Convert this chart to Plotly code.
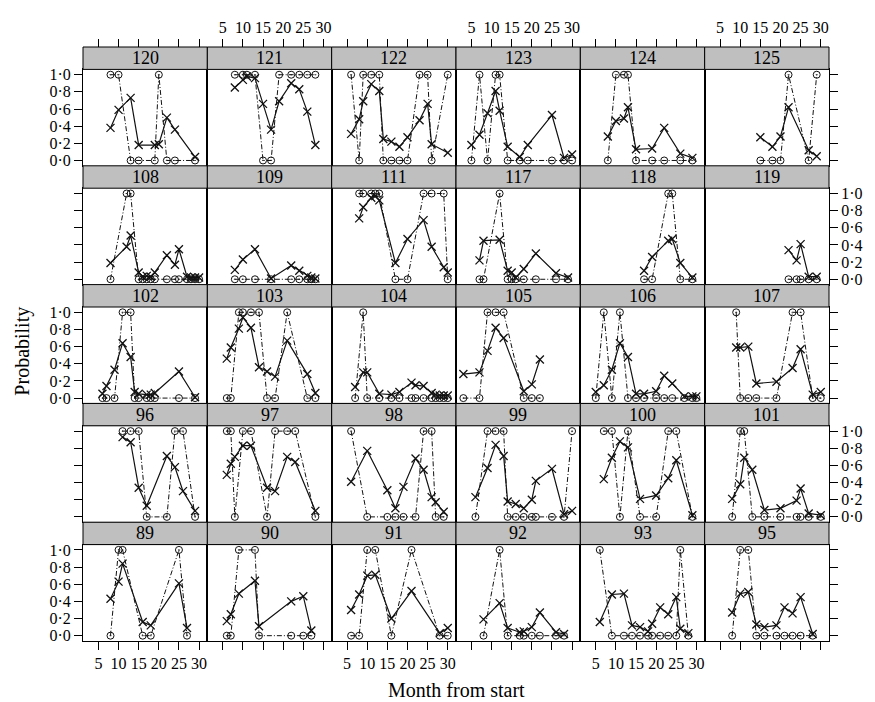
import plotly.graph_objects as go

# ---------------- data ----------------
PANEL_ROWS = [
    ["120", "121", "122", "123", "124", "125"],
    ["108", "109", "111", "117", "118", "119"],
    ["102", "103", "104", "105", "106", "107"],
    ["96", "97", "98", "99", "100", "101"],
    ["89", "90", "91", "92", "93", "95"],
]

MONTHS = {
    "120": [8, 10, 13, 15, 19, 20, 22, 24, 29],
    "121": [8, 10, 11, 13, 15, 17, 19, 22, 24, 26, 28],
    "122": [6, 8, 9, 11, 13, 14, 16, 18, 20, 23, 25, 26, 30],
    "123": [5, 7, 9, 11, 12, 14, 17, 19, 25, 28, 30],
    "124": [8, 10, 12, 13, 15, 19, 22, 26, 29],
    "125": [15, 18, 20, 22, 27, 29],
    "108": [8, 12, 13, 15, 16, 17, 18, 19, 22, 24, 25, 27, 28, 29, 30],
    "109": [8, 10, 13, 17, 22, 24, 26, 27, 28],
    "111": [8, 9, 11, 12, 13, 17, 20, 24, 26, 29, 30],
    "117": [7, 8, 12, 14, 15, 16, 18, 21, 26, 29],
    "118": [17, 19, 23, 24, 26, 29],
    "119": [22, 24, 25, 27, 29],
    "102": [6, 7, 9, 11, 13, 14, 15, 17, 18, 19, 25, 29],
    "103": [6, 7, 9, 10, 12, 14, 16, 18, 21, 26, 28],
    "104": [7, 9, 10, 13, 16, 18, 21, 22, 24, 26, 27, 28, 29, 30],
    "105": [3, 7, 9, 11, 13, 18, 20, 22],
    "106": [5, 7, 9, 11, 13, 15, 17, 20, 22, 24, 27, 29, 30],
    "107": [9, 10, 12, 14, 19, 23, 25, 28, 30],
    "96": [11, 13, 15, 17, 22, 24, 26, 29],
    "97": [6, 7, 8, 10, 12, 16, 18, 21, 23, 28],
    "98": [6, 10, 15, 17, 19, 22, 24, 26, 27, 29],
    "99": [6, 9, 11, 13, 14, 16, 18, 20, 21, 25, 28, 30],
    "100": [7, 9, 11, 13, 16, 20, 23, 25, 29],
    "101": [8, 10, 11, 13, 16, 20, 24, 25, 27, 30],
    "89": [8, 10, 11, 16, 18, 25, 27],
    "90": [6, 7, 9, 13, 14, 22, 25, 27],
    "91": [6, 8, 10, 12, 16, 21, 28, 30],
    "92": [8, 12, 14, 17, 18, 20, 22, 26, 28],
    "93": [6, 9, 12, 14, 16, 18, 19, 21, 23, 25, 26, 28],
    "95": [8, 10, 12, 14, 16, 19, 21, 23, 25, 28],
}

OBSERVED = {
    "120": [1, 1, 0, 0, 0, 1, 0, 0, 0],
    "121": [1, 1, 1, 1, 0, 0, 1, 1, 1, 1, 1],
    "122": [1, 0, 1, 1, 1, 0, 0, 0, 0, 1, 1, 0, 1],
    "123": [0, 1, 0, 1, 1, 0, 0, 0, 0, 0, 0],
    "124": [0, 1, 1, 1, 0, 0, 0, 0, 0],
    "125": [0, 0, 0, 1, 0, 1],
    "108": [0, 1, 1, 0, 0, 0, 0, 0, 0, 0, 0, 0, 0, 0, 0],
    "109": [0, 0, 0, 0, 0, 0, 0, 0, 0],
    "111": [1, 1, 1, 1, 1, 0, 0, 1, 1, 1, 0],
    "117": [0, 0, 1, 0, 0, 0, 0, 0, 0, 0],
    "118": [0, 0, 1, 1, 0, 0],
    "119": [0, 0, 0, 0, 0],
    "102": [0, 0, 0, 1, 1, 0, 0, 0, 0, 0, 0, 0],
    "103": [0, 0, 1, 1, 1, 1, 0, 0, 1, 0, 0],
    "104": [0, 1, 0, 0, 0, 0, 0, 0, 0, 0, 0, 0, 0, 0],
    "105": [0, 0, 1, 1, 1, 0, 0, 0],
    "106": [0, 1, 0, 1, 0, 0, 0, 0, 0, 0, 0, 0, 0],
    "107": [1, 0, 0, 0, 0, 1, 1, 0, 0],
    "96": [1, 1, 1, 0, 0, 1, 1, 0],
    "97": [1, 1, 0, 1, 1, 0, 1, 1, 1, 0],
    "98": [1, 0, 0, 0, 0, 0, 1, 1, 0, 0],
    "99": [0, 1, 1, 1, 0, 0, 0, 0, 0, 0, 0, 1],
    "100": [1, 1, 0, 1, 0, 0, 1, 1, 0],
    "101": [0, 1, 1, 0, 0, 0, 0, 0, 0, 0],
    "89": [0, 1, 1, 0, 0, 1, 0],
    "90": [0, 0, 1, 1, 0, 0, 0, 0],
    "91": [0, 0, 1, 1, 0, 1, 0, 0],
    "92": [0, 1, 0, 0, 0, 0, 0, 0, 0],
    "93": [1, 0, 0, 0, 0, 0, 0, 0, 0, 0, 1, 0],
    "95": [0, 1, 1, 0, 0, 0, 0, 0, 0, 0],
}

FITTED = {
    "120": [0.38, 0.59, 0.73, 0.18, 0.18, 0.19, 0.50, 0.36, 0.04],
    "121": [0.85, 0.94, 0.98, 0.96, 0.66, 0.36, 0.69, 0.90, 0.83, 0.57, 0.18],
    "122": [0.31, 0.48, 0.69, 0.89, 0.81, 0.25, 0.22, 0.16, 0.27, 0.47, 0.66, 0.19, 0.09],
    "123": [0.18, 0.30, 0.55, 0.81, 0.58, 0.16, 0.04, 0.18, 0.53, 0.03, 0.07],
    "124": [0.28, 0.46, 0.49, 0.62, 0.13, 0.14, 0.38, 0.08, 0.03],
    "125": [0.27, 0.16, 0.28, 0.62, 0.12, 0.05],
    "108": [0.19, 0.38, 0.51, 0.08, 0.03, 0.04, 0.03, 0.08, 0.28, 0.17, 0.35, 0.03, 0.02, 0.02, 0.02],
    "109": [0.11, 0.23, 0.35, 0.01, 0.16, 0.10, 0.04, 0.02, 0.01],
    "111": [0.71, 0.84, 0.95, 0.97, 0.92, 0.19, 0.47, 0.69, 0.38, 0.14, 0.08],
    "117": [0.22, 0.45, 0.46, 0.10, 0.08, 0.02, 0.12, 0.30, 0.07, 0.02],
    "118": [0.10, 0.26, 0.45, 0.47, 0.19, 0.02],
    "119": [0.34, 0.22, 0.41, 0.03, 0.03],
    "102": [0.05, 0.14, 0.33, 0.64, 0.48, 0.07, 0.05, 0.04, 0.04, 0.06, 0.31, 0.01],
    "103": [0.46, 0.59, 0.81, 0.94, 0.82, 0.36, 0.31, 0.25, 0.67, 0.28, 0.06],
    "104": [0.13, 0.30, 0.30, 0.05, 0.04, 0.07, 0.18, 0.15, 0.14, 0.06, 0.04, 0.03, 0.03, 0.03],
    "105": [0.28, 0.30, 0.55, 0.82, 0.70, 0.08, 0.16, 0.45],
    "106": [0.07, 0.15, 0.33, 0.64, 0.48, 0.05, 0.05, 0.08, 0.26, 0.17, 0.02, 0.02, 0.02],
    "107": [0.59, 0.59, 0.60, 0.17, 0.19, 0.35, 0.57, 0.04, 0.07],
    "96": [0.93, 0.87, 0.34, 0.13, 0.71, 0.58, 0.30, 0.07],
    "97": [0.49, 0.62, 0.70, 0.83, 0.83, 0.34, 0.30, 0.70, 0.64, 0.07],
    "98": [0.41, 0.77, 0.31, 0.10, 0.35, 0.68, 0.55, 0.23, 0.17, 0.06],
    "99": [0.23, 0.57, 0.84, 0.71, 0.18, 0.15, 0.10, 0.20, 0.42, 0.56, 0.03, 0.07],
    "100": [0.44, 0.69, 0.88, 0.81, 0.21, 0.25, 0.45, 0.66, 0.02],
    "101": [0.21, 0.38, 0.69, 0.55, 0.08, 0.10, 0.19, 0.33, 0.04, 0.02],
    "89": [0.43, 0.63, 0.84, 0.16, 0.12, 0.61, 0.09],
    "90": [0.17, 0.25, 0.49, 0.64, 0.11, 0.40, 0.46, 0.06],
    "91": [0.30, 0.48, 0.70, 0.71, 0.20, 0.52, 0.03, 0.09],
    "92": [0.19, 0.38, 0.09, 0.04, 0.05, 0.10, 0.27, 0.04, 0.02],
    "93": [0.16, 0.48, 0.49, 0.12, 0.10, 0.05, 0.14, 0.33, 0.25, 0.45, 0.08, 0.03],
    "95": [0.27, 0.49, 0.51, 0.13, 0.10, 0.12, 0.33, 0.26, 0.45, 0.02],
}

X_TICKS = [5, 10, 15, 20, 25, 30]
Y_TICKS = [0.0, 0.2, 0.4, 0.6, 0.8, 1.0]
Y_TICKTEXT = ["0·0", "0·2", "0·4", "0·6", "0·8", "1·0"]
X_TITLE = "Month from start"
Y_TITLE = "Probability"

# ---------------- layout geometry ----------------
W, H = 875, 702
ML, MR, MT, MB = 83, 38, 47, 61
PW, PH = W - ML - MR, H - MT - MB
NR, NC = 5, 6
PITCH = PH / NR
STRIP = 22.4
FONT = "Liberation Serif, Times New Roman, serif"
INK = "#111111"
XRANGE = [1.17, 32.05]
YRANGE = [-0.062, 1.062]
TICKFONT = dict(family=FONT, size=16, color="black")
TICKLEN = 8

fig = go.Figure()
layout = {}
shapes = []
annotations = []

for r in range(NR):
    for c in range(NC):
        pid = PANEL_ROWS[r][c]
        k = r * NC + c + 1
        xa = "x" if k == 1 else f"x{k}"
        ya = "y" if k == 1 else f"y{k}"
        xkey = "xaxis" if k == 1 else f"xaxis{k}"
        ykey = "yaxis" if k == 1 else f"yaxis{k}"

        x0, x1 = c / NC, (c + 1) / NC
        top_px = r * PITCH + STRIP
        bot_px = (r + 1) * PITCH
        y0, y1 = 1 - bot_px / PH, 1 - top_px / PH

        # observed (0/1) series
        fig.add_trace(go.Scatter(
            x=MONTHS[pid], y=OBSERVED[pid], xaxis=xa, yaxis=ya,
            mode="lines+markers", showlegend=False, hoverinfo="skip",
            line=dict(color=INK, width=1, dash="5px,2px,1px,2px"),
            marker=dict(symbol="circle-open-dot", size=7,
                        line=dict(color=INK, width=1), color=INK),
        ))
        # fitted series
        fig.add_trace(go.Scatter(
            x=MONTHS[pid], y=FITTED[pid], xaxis=xa, yaxis=ya,
            mode="lines+markers", showlegend=False, hoverinfo="skip",
            line=dict(color=INK, width=1.2),
            marker=dict(symbol="x-thin-open", size=8,
                        line=dict(color=INK, width=1.3), color=INK),
        ))

        xa_cfg = dict(domain=[x0, x1], anchor=ya, range=XRANGE,
                      tickvals=X_TICKS, showgrid=False, zeroline=False,
                      showline=True, mirror=True, linecolor="black",
                      linewidth=1, ticklen=TICKLEN, tickcolor="black",
                      tickfont=TICKFONT, side="bottom")
        if r == NR - 1:
            xa_cfg.update(ticks="outside", showticklabels=(c % 2 == 0))
        else:
            xa_cfg.update(ticks="", showticklabels=False)
        layout[xkey] = xa_cfg

        # top row: extra axis carrying ticks above the strips
        if r == 0:
            tk = NR * NC + c + 1
            txa = f"x{tk}"
            layout[f"xaxis{tk}"] = dict(
                overlaying=xa, anchor="free", position=1.0, side="top",
                range=XRANGE, tickvals=X_TICKS, showgrid=False,
                zeroline=False, showline=False, ticks="outside",
                ticklen=TICKLEN, tickcolor="black", tickfont=TICKFONT,
                showticklabels=(c % 2 == 1))
            fig.add_trace(go.Scatter(x=[None], y=[None], xaxis=txa, yaxis=ya,
                                     mode="markers", showlegend=False,
                                     hoverinfo="skip"))

        ya_cfg = dict(domain=[y0, y1], anchor=xa, range=YRANGE,
                      tickvals=Y_TICKS, ticktext=Y_TICKTEXT, showgrid=False,
                      zeroline=False, showline=True, mirror=True,
                      linecolor="black", linewidth=1, ticklen=TICKLEN,
                      tickcolor="black", tickfont=TICKFONT)
        if c == 0:
            ya_cfg.update(side="left", ticks="outside",
                          showticklabels=(r % 2 == 0))
        elif c == NC - 1:
            ya_cfg.update(side="right", ticks="outside",
                          showticklabels=(r % 2 == 1))
        else:
            ya_cfg.update(ticks="", showticklabels=False)
        layout[ykey] = ya_cfg

        # strip
        sy0 = 1 - top_px / PH
        sy1 = 1 - (r * PITCH) / PH
        shapes.append(dict(type="rect", xref="paper", yref="paper",
                           x0=x0, x1=x1, y0=sy0, y1=sy1,
                           fillcolor="#bfbfbf",
                           line=dict(color="black", width=1)))
        annotations.append(dict(text=pid, xref="paper", yref="paper",
                                x=(x0 + x1) / 2, y=(sy0 + sy1) / 2,
                                xanchor="center", yanchor="middle",
                                showarrow=False,
                                font=dict(family=FONT, size=18, color="black")))

annotations.append(dict(text=X_TITLE, xref="paper", yref="paper",
                        x=0.5, y=1 - (690 - MT) / PH, xanchor="center",
                        yanchor="middle", showarrow=False,
                        font=dict(family=FONT, size=20, color="black")))
annotations.append(dict(text=Y_TITLE, xref="paper", yref="paper",
                        x=(21 - ML) / PW, y=1 - (351 - MT) / PH,
                        xanchor="center", yanchor="middle", textangle=-90,
                        showarrow=False,
                        font=dict(family=FONT, size=20, color="black")))

fig.update_layout(
    width=W, height=H, autosize=False,
    margin=dict(l=ML, r=MR, t=MT, b=MB, pad=0),
    paper_bgcolor="white", plot_bgcolor="white",
    shapes=shapes, annotations=annotations,
    font=dict(family=FONT, color="black"),
    hovermode=False,
    **layout,
)

fig.write_html(
    "out.html",
    config={"displayModeBar": False, "staticPlot": True},
    post_script="document.body.style.margin='0';"
                "document.body.style.overflow='hidden';",
)
